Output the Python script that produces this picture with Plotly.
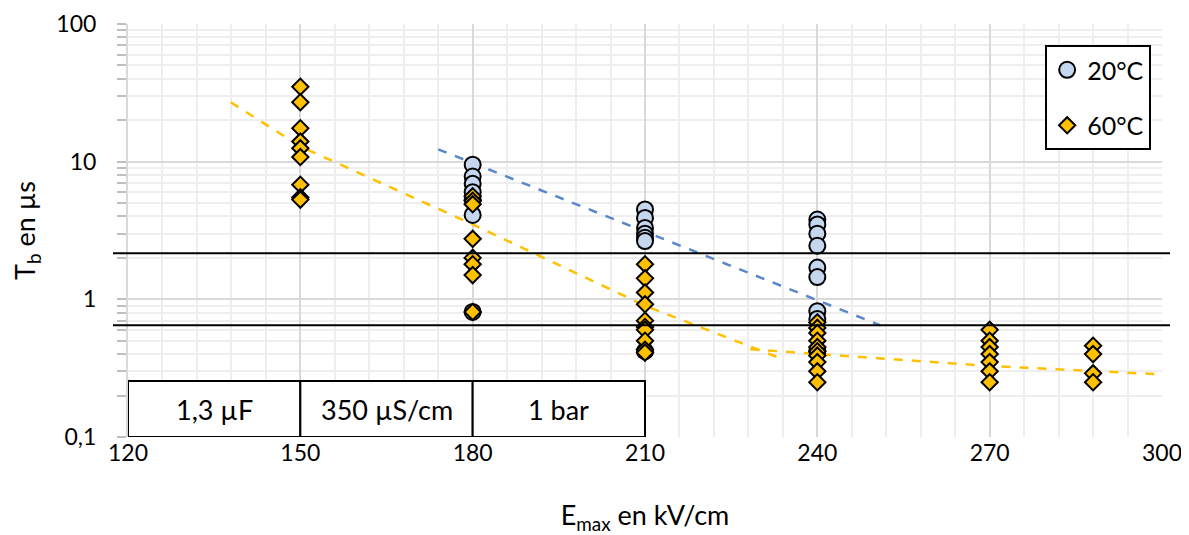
import math
import plotly.graph_objects as go

# ---------------- data ----------------
x_20 = [180, 180, 180, 180, 180, 180, 180,
        210, 210, 210, 210, 210, 210, 210,
        240, 240, 240, 240, 240, 240, 240, 240, 240]
y_20 = [9.5, 7.8, 6.9, 6.0, 5.3, 4.1, 0.81,
        4.5, 3.9, 3.3, 3.0, 2.8, 2.65, 0.42,
        3.8, 3.5, 3.0, 2.45, 1.7, 1.45, 0.82, 0.72, 0.42]

x_60 = [150, 150, 150, 150, 150, 150, 150, 150, 150,
        180, 180, 180, 180, 180, 180, 180, 180,
        210, 210, 210, 210, 210, 210, 210, 210, 210, 210,
        240, 240, 240, 240, 240, 240, 240, 240, 240, 240,
        270, 270, 270, 270, 270, 270, 270,
        288, 288, 288, 288]
y_60 = [35, 27, 17.5, 14, 12.5, 10.8, 6.8, 5.5, 5.3,
        5.6, 5.2, 4.9, 2.75, 2.0, 1.8, 1.5, 0.81,
        1.8, 1.42, 1.12, 0.92, 0.7, 0.63, 0.6, 0.5, 0.43, 0.41,
        0.68, 0.62, 0.57, 0.5, 0.45, 0.42, 0.39, 0.35, 0.3, 0.25,
        0.6, 0.5, 0.45, 0.4, 0.35, 0.3, 0.25,
        0.46, 0.4, 0.29, 0.25]

trend20_x = [174, 251]
trend20_y = [12.3, 0.647]
trend60a_x = [137.9, 150, 180, 210, 234]
trend60a_y = [27, 12.9, 3.5, 0.9, 0.367]
trend60b_x = [228.3, 270, 300]
trend60b_y = [0.434, 0.328, 0.285]

threshold_y = [2.16, 0.647]

box_x0 = [120, 150, 180]
box_x1 = [150, 180, 210]
box_labels = ["1,3 µF", "350 µS/cm", "1 bar"]
box_y0, box_y1 = 0.1, 0.255

x_ticks = [120, 150, 180, 210, 240, 270, 300]
y_ticks = [0.1, 1, 10, 100]
y_ticktext = ["0,1", "1", "10", "100"]

FONT = "Lato"
BLUE_FILL = "#C5D7EE"
GOLD = "#FFC000"
TREND_BLUE = "#5A87C8"

fig = go.Figure()

# trend lines (below markers)
fig.add_trace(go.Scatter(x=trend20_x, y=trend20_y, mode="lines", showlegend=False,
                         line=dict(color=TREND_BLUE, width=2.5, dash="dash"), hoverinfo="skip"))
fig.add_trace(go.Scatter(x=trend60a_x, y=trend60a_y, mode="lines", showlegend=False,
                         line=dict(color=GOLD, width=2.5, dash="dash"), hoverinfo="skip"))
fig.add_trace(go.Scatter(x=trend60b_x, y=trend60b_y, mode="lines", showlegend=False,
                         line=dict(color=GOLD, width=2.5, dash="dash"), hoverinfo="skip"))

fig.add_trace(go.Scatter(x=x_20, y=y_20, mode="markers", name="20°C", legendgroup="a",
                         marker=dict(symbol="circle", size=16, color=BLUE_FILL,
                                     line=dict(color="black", width=2))))
fig.add_trace(go.Scatter(x=x_60, y=y_60, mode="markers", name="60°C", legendgroup="b",
                         marker=dict(symbol="diamond", size=12.5, color=GOLD,
                                     line=dict(color="black", width=2))))

shapes = []
for ty in threshold_y:
    shapes.append(dict(type="line", xref="paper", yref="y", x0=-0.0145, x1=1.0077,
                       y0=ty, y1=ty, line=dict(color="black", width=2), layer="above"))
annotations = []
for x0, x1, lab in zip(box_x0, box_x1, box_labels):
    shapes.append(dict(type="rect", xref="x", yref="y", x0=x0, x1=x1, y0=box_y0, y1=box_y1,
                       line=dict(color="black", width=2), fillcolor="white", layer="above"))
    annotations.append(dict(x=(x0 + x1) / 2, y=(math.log10(box_y0) + math.log10(box_y1)) / 2,
                            xref="x", yref="y", text=lab, showarrow=False,
                            font=dict(family=FONT, size=27, color="black")))

# the page body has a default 8px margin; figure size/margins compensate for it
fig.update_layout(
    width=1181, height=527,
    margin=dict(l=120, r=27, t=16, b=98),
    paper_bgcolor="white", plot_bgcolor="white",
    font=dict(family=FONT, size=23, color="black"),
    shapes=shapes, annotations=annotations,
    legend=dict(x=0.887, y=0.949, xanchor="left", yanchor="top",
                bgcolor="white", bordercolor="black", borderwidth=2,
                font=dict(family=FONT, size=25), tracegroupgap=20),
    showlegend=True,
)

fig.update_xaxes(range=[120, 300], tickvals=x_ticks, showgrid=True, gridcolor="#D9D9D9", gridwidth=2,
                 zeroline=False, showline=False, ticks="", automargin=False,
                 minor=dict(dtick=6, tick0=120, showgrid=True, gridcolor="#EEEEEE", gridwidth=2),
                 title=dict(text="E<sub>max</sub> en kV/cm", font=dict(family=FONT, size=27), standoff=50),
                 tickfont=dict(family=FONT, size=23))
fig.update_yaxes(type="log", range=[-1, 2], tickvals=y_ticks, ticktext=y_ticktext,
                 showgrid=True, gridcolor="#D9D9D9", gridwidth=2, automargin=False,
                 showline=True, linecolor="#D9D9D9", linewidth=2,
                 ticks="outside", ticklen=9, tickcolor="#BFBFBF", tickwidth=2,
                 ticklabelstandoff=16,
                 minor=dict(dtick="D1", showgrid=True, gridcolor="#EEEEEE", gridwidth=2,
                            ticks="outside", ticklen=9, tickcolor="#BFBFBF", tickwidth=2),
                 title=dict(text="T<sub>b</sub> en µs", font=dict(family=FONT, size=27), standoff=20),
                 tickfont=dict(family=FONT, size=23))

fig.write_html("out.html")
